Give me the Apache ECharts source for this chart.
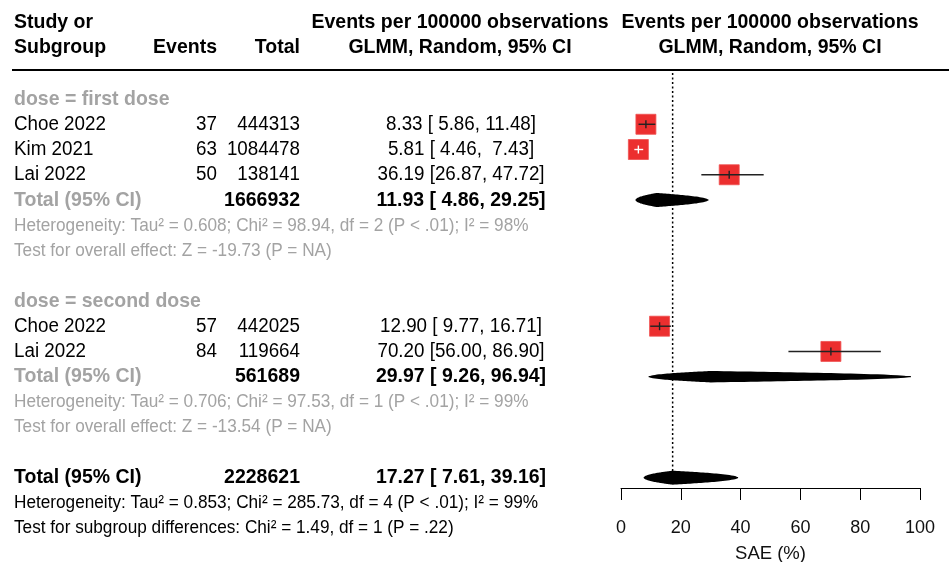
<!DOCTYPE html>
<html>
<head>
<meta charset="utf-8">
<script src="https://cdn.jsdelivr.net/npm/echarts@6/dist/echarts.min.js"></script>
<style>html,body{margin:0;padding:0;background:#fff}#c{width:949px;height:562px}</style>
</head>
<body>
<div id="c"></div>
<script>
// ---- data ----
const studies = ['Choe 2022', 'Kim 2021', 'Lai 2022', 'Choe 2022', 'Lai 2022'];
const studyGroup = ['first dose', 'first dose', 'first dose', 'second dose', 'second dose'];
const events = [37, 63, 50, 57, 84];
const totals = [444313, 1084478, 138141, 442025, 119664];
const estimates = [8.33, 5.81, 36.19, 12.90, 70.20];
const lowerCI = [5.86, 4.46, 26.87, 9.77, 56.00];
const upperCI = [11.48, 7.43, 47.72, 16.71, 86.90];

const groupNames = ['first dose', 'second dose'];
const groupTotals = [1666932, 561689];
const groupEst = [11.93, 29.97];
const groupLower = [4.86, 9.26];
const groupUpper = [29.25, 96.94];
const groupTau2 = ['0.608', '0.706'];
const groupChi2 = ['98.94', '97.53'];
const groupDf = [2, 1];
const groupP = ['< .01', '< .01'];
const groupI2 = ['98%', '99%'];
const groupZ = ['-19.73', '-13.54'];

const overallTotal = 2228621;
const overallEst = 17.27;
const overallLower = 7.61;
const overallUpper = 39.16;
const overallTau2 = '0.853';
const overallChi2 = '285.73';
const overallDf = 4;
const overallP = '< .01';
const overallI2 = '99%';
const subgroupChi2 = '1.49';
const subgroupDf = 1;
const subgroupP = '= .22';

const xTicks = [0, 20, 40, 60, 80, 100];
const xAxisName = 'SAE (%)';

// ---- layout / styles ----
const FONT = '"Liberation Sans", Arial, sans-serif';
const GREY = '#a3a3a3';
const RED = '#ec2f2f';
const SIZE_BOLD = 19.5;
const SIZE_REG = 18.8;
const SIZE_SMALL = 17.2;
const COL_NAME = 14, COL_EVENTS = 217, COL_TOTAL = 300, COL_CI = 461;
const GROUP_DIAMOND_H = [7, 5.7];
const OVERALL_DIAMOND_H = 7;

function pad(s, n) { while (s.length < n) s = ' ' + s; return s; }
function ciText(e, l, u) { return e.toFixed(2) + ' [' + pad(l.toFixed(2), 5) + ', ' + pad(u.toFixed(2), 5) + ']'; }

const rows = [];
groupNames.forEach((g, gi) => {
  rows.push({ kind: 'group', gi });
  studies.forEach((s, si) => { if (studyGroup[si] === g) rows.push({ kind: 'study', si }); });
  rows.push({ kind: 'gtotal', gi });
  rows.push({ kind: 'het', gi });
  rows.push({ kind: 'test', gi });
  rows.push({ kind: 'blank' });
});
rows.push({ kind: 'total' });
rows.push({ kind: 'ohet' });
rows.push({ kind: 'sgtest' });

function txt(x, y, s, o) {
  return {
    type: 'text', x: x, y: y, scaleY: o.sy || 1.06,
    style: {
      text: s, fill: o.color || '#000',
      font: (o.bold ? 'bold ' : '') + (o.size || SIZE_REG) + 'px ' + FONT,
      align: o.align || 'left', verticalAlign: 'middle'
    }
  };
}

// summary shape: pointed at the CI limits, widest at the estimate
function diamond(api, lo, est, up, row, h) {
  const y = api.coord([est, row])[1];
  const n = 30, top = [];
  for (let k = 0; k <= n; k++) {
    const t = k / n;
    const v = lo + t * (est - lo);
    top.push([api.coord([v, row])[0], y - Math.sqrt(t) * h]);
  }
  for (let k = 1; k <= n; k++) {
    const t = k / n;
    const v = est + t * (up - est);
    top.push([api.coord([v, row])[0], y - Math.sqrt(1 - t) * h]);
  }
  const bot = [];
  for (let k = top.length - 2; k >= 1; k--) bot.push([top[k][0], 2 * y - top[k][1]]);
  return [
    { type: 'line', shape: { x1: api.coord([lo, row])[0], y1: y, x2: api.coord([up, row])[0], y2: y }, style: { stroke: '#000', lineWidth: 1.2 } },
    { type: 'polygon', shape: { points: top.concat(bot) }, style: { fill: '#000' } }
  ];
}

function renderRow(params, api) {
  const row = rows[params.dataIndex];
  const i = api.value(1);
  const y = api.coord([0, i])[1];
  const X = v => api.coord([v, i])[0];
  const ch = [];
  if (row.kind === 'group') {
    ch.push(txt(COL_NAME, y, 'dose = ' + groupNames[row.gi], { bold: true, size: SIZE_BOLD, color: GREY }));
  } else if (row.kind === 'study') {
    const s = row.si;
    ch.push(txt(COL_NAME, y, studies[s], {}));
    ch.push(txt(COL_EVENTS, y, String(events[s]), { align: 'right' }));
    ch.push(txt(COL_TOTAL, y, String(totals[s]), { align: 'right' }));
    ch.push(txt(COL_CI, y, ciText(estimates[s], lowerCI[s], upperCI[s]), { align: 'center' }));
    const cx = X(estimates[s]), half = 10;
    const x1 = X(lowerCI[s]), x2 = X(upperCI[s]);
    const inside = x1 > cx - half + 2 && x2 < cx + half - 2;
    const lc = inside ? '#fff' : '#222';
    ch.push({ type: 'rect', shape: { x: cx - half, y: y - half, width: 2 * half, height: 2 * half }, style: { fill: RED, stroke: '#f05050', lineWidth: 0.8 } });
    ch.push({ type: 'line', shape: { x1: x1, y1: y, x2: x2, y2: y }, style: { stroke: lc, lineWidth: 1.4 } });
    ch.push({ type: 'line', shape: { x1: cx, y1: y - 4, x2: cx, y2: y + 4 }, style: { stroke: lc, lineWidth: 1.4 } });
  } else if (row.kind === 'gtotal') {
    const g = row.gi;
    ch.push(txt(COL_NAME, y, 'Total (95% CI)', { bold: true, size: SIZE_BOLD, color: GREY }));
    ch.push(txt(COL_TOTAL, y, String(groupTotals[g]), { bold: true, size: SIZE_BOLD, align: 'right' }));
    ch.push(txt(COL_CI, y, ciText(groupEst[g], groupLower[g], groupUpper[g]), { bold: true, size: SIZE_BOLD, align: 'center' }));
    diamond(api, groupLower[g], groupEst[g], groupUpper[g], i, GROUP_DIAMOND_H[g]).forEach(e => ch.push(e));
  } else if (row.kind === 'het') {
    const g = row.gi;
    ch.push(txt(COL_NAME, y, 'Heterogeneity: Tau² = ' + groupTau2[g] + '; Chi² = ' + groupChi2[g] + ', df = ' + groupDf[g] + ' (P ' + groupP[g] + '); I² = ' + groupI2[g], { size: SIZE_SMALL, color: GREY, sy: 1.12 }));
  } else if (row.kind === 'test') {
    ch.push(txt(COL_NAME, y, 'Test for overall effect: Z = ' + groupZ[row.gi] + ' (P = NA)', { size: SIZE_SMALL, color: GREY, sy: 1.12 }));
  } else if (row.kind === 'total') {
    ch.push(txt(COL_NAME, y, 'Total (95% CI)', { bold: true, size: SIZE_BOLD }));
    ch.push(txt(COL_TOTAL, y, String(overallTotal), { bold: true, size: SIZE_BOLD, align: 'right' }));
    ch.push(txt(COL_CI, y, ciText(overallEst, overallLower, overallUpper), { bold: true, size: SIZE_BOLD, align: 'center' }));
    diamond(api, overallLower, overallEst, overallUpper, i, OVERALL_DIAMOND_H).forEach(e => ch.push(e));
  } else if (row.kind === 'ohet') {
    ch.push(txt(COL_NAME, y, 'Heterogeneity: Tau² = ' + overallTau2 + '; Chi² = ' + overallChi2 + ', df = ' + overallDf + ' (P ' + overallP + '); I² = ' + overallI2, { size: SIZE_SMALL, sy: 1.12 }));
  } else if (row.kind === 'sgtest') {
    ch.push(txt(COL_NAME, y, 'Test for subgroup differences: Chi² = ' + subgroupChi2 + ', df = ' + subgroupDf + ' (P ' + subgroupP + ')', { size: SIZE_SMALL, sy: 1.12 }));
  }
  return { type: 'group', children: ch };
}

function hdr(x, y, s, align) {
  return { type: 'text', x: x, y: y, scaleY: 1.06,
    style: { text: s, font: 'bold ' + SIZE_BOLD + 'px ' + FONT, fill: '#000', textAlign: align, align: align, textVerticalAlign: 'middle', verticalAlign: 'middle' } };
}

const chart = echarts.init(document.getElementById('c'), null, { renderer: 'canvas' });
chart.setOption({
  animation: false,
  backgroundColor: '#fff',
  grid: { left: 621, right: 29, top: 70, bottom: 74, containLabel: false, outerBoundsMode: 'none' },
  xAxis: {
    type: 'value', min: 0, max: 100, interval: 20, position: 'bottom',
    axisLine: { show: true, onZero: false, lineStyle: { color: '#000', width: 1 } },
    axisTick: { show: true, length: 12, lineStyle: { color: '#000' } },
    splitLine: { show: false },
    axisLabel: { fontSize: 18, color: '#111', margin: 31, fontFamily: FONT, formatter: v => xTicks.indexOf(v) >= 0 ? String(v) : '' },
    name: xAxisName, nameLocation: 'middle', nameGap: 56,
    nameTextStyle: { fontSize: 18.5, color: '#111', fontFamily: FONT }
  },
  yAxis: { type: 'value', inverse: true, min: -1.15, max: 15.41, show: false },
  graphic: [
    hdr(14, 22, 'Study or', 'left'),
    hdr(14, 47, 'Subgroup', 'left'),
    hdr(217, 47, 'Events', 'right'),
    hdr(300, 47, 'Total', 'right'),
    hdr(460, 22, 'Events per 100000 observations', 'center'),
    hdr(460, 47, 'GLMM, Random, 95% CI', 'center'),
    hdr(770, 22, 'Events per 100000 observations', 'center'),
    hdr(770, 47, 'GLMM, Random, 95% CI', 'center'),
    { type: 'line', shape: { x1: 12, y1: 70, x2: 949, y2: 70 }, style: { stroke: '#000', lineWidth: 2 } }
  ],
  series: [
    {
      type: 'custom', clip: false, z: 1,
      data: [[overallEst, 0]],
      renderItem: function (params, api) {
        const v = api.value(0);
        const p1 = api.coord([v, -1.03]), p2 = api.coord([v, 15.17]);
        return { type: 'line', shape: { x1: p1[0], y1: p1[1], x2: p2[0], y2: p2[1] }, style: { stroke: '#000', lineWidth: 1.5, lineDash: [2, 2.5] } };
      }
    },
    {
      type: 'custom', clip: false, z: 2,
      data: rows.map((r, i) => [0, i]),
      renderItem: renderRow
    }
  ]
});
</script>
</body>
</html>
